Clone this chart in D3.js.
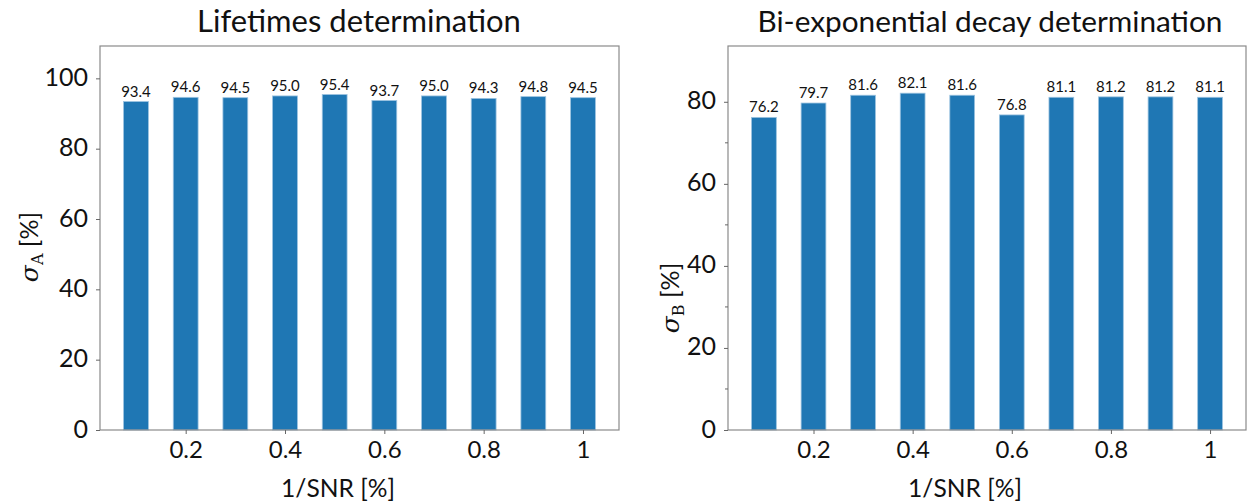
<!DOCTYPE html>
<html><head><meta charset="utf-8">
<script src="https://cdn.jsdelivr.net/npm/d3@7"></script>
<style>
body{margin:0;background:#fff;}
text{font-family:Lato,"Open Sans",sans-serif;fill:#111;}
</style></head>
<body><svg id="c" width="1247" height="504"></svg>
<script>
const xValues = [0.1,0.2,0.3,0.4,0.5,0.6,0.7,0.8,0.9,1.0];
const sigmaA = [93.4,94.6,94.5,95.0,95.4,93.7,95.0,94.3,94.8,94.5];
const sigmaB = [76.2,79.7,81.6,82.1,81.6,76.8,81.1,81.2,81.2,81.1];
const xTicks = [0.2,0.4,0.6,0.8,1];
const yTicksA = [0,20,40,60,80,100];
const yTicksB = [0,20,40,60,80];
const yMinorB = [10,30,50,70];
const titles = ["Lifetimes determination","Bi-exponential decay determination"];
const yLabelSubs = ["A","B"];
const xLabel = "1/SNR [%]";

const svg = d3.select("#c");
const barColor = "#1f77b4";

function fit(sel, w){
  const n = sel.node(); const cur = n.getComputedTextLength();
  const fs = parseFloat(sel.attr("font-size"));
  sel.attr("font-size", fs*w/cur);
}

function panel(opt){
  const {x0,x1,y0,y1,values,yMax,yTicks,yMinor,title,titleCx,titleW,sub,ylx,yly,xlabCx} = opt;
  const g = svg.append("g");
  const x = d3.scaleLinear().domain([0.0275,1.0725]).range([x0,x1]);
  const y = d3.scaleLinear().domain([0,yMax]).range([y1,y0]);
  const bw = x(0.05)-x(0);
  g.selectAll("rect.bar").data(values).join("rect")
    .attr("x",(d,i)=>x(xValues[i])-bw/2).attr("width",bw)
    .attr("y",d=>y(d)).attr("height",d=>y(0)-y(d))
    .attr("fill",barColor).attr("stroke","#9cc3e0").attr("stroke-width",0.8);
  g.selectAll("text.val").data(values).join("text")
    .attr("x",(d,i)=>x(xValues[i])).attr("y",d=>y(d)-5)
    .attr("text-anchor","middle").attr("font-size",15).text(d=>d.toFixed(1));
  // frame
  g.append("rect").attr("x",x0).attr("y",y0).attr("width",x1-x0).attr("height",y1-y0)
    .attr("fill","none").attr("stroke","#8a8a8a").attr("stroke-width",1.2);
  // y axis
  const ya = d3.axisLeft(y).tickValues(yTicks).tickSize(4).tickPadding(8).tickFormat(d3.format("d"));
  const yg = g.append("g").attr("transform",`translate(${x0},0)`).call(ya);
  yg.select(".domain").remove();
  yg.selectAll("line").attr("stroke","#666");
  yg.selectAll("text").attr("font-size",25).attr("font-family","Lato").attr("fill","#111").attr("dy","0.28em");
  if(yMinor){
    g.selectAll("line.minor").data(yMinor).join("line")
      .attr("x1",x0-3).attr("x2",x0).attr("y1",d=>y(d)).attr("y2",d=>y(d)).attr("stroke","#666");
  }
  // x axis
  const xa = d3.axisBottom(x).tickValues(xTicks).tickSize(4).tickPadding(7).tickFormat(d=>d===1?"1":d3.format(".1f")(d));
  const xg = g.append("g").attr("transform",`translate(0,${y1})`).call(xa);
  xg.select(".domain").remove();
  xg.selectAll("line").attr("stroke","#666");
  xg.selectAll("text").attr("font-size",24).attr("font-family","Lato").attr("fill","#111");
  // title
  const t = g.append("text").attr("x",titleCx).attr("y",32).attr("text-anchor","middle").attr("font-size",26).text(title);
  fit(t,titleW);
  // x label
  const xl = g.append("text").attr("x",xlabCx).attr("y",497).attr("text-anchor","middle").attr("font-size",22).text(xLabel);
  fit(xl,114);
  // y label
  const yl = g.append("text").attr("transform",`translate(${ylx},${yly}) rotate(-90)`).attr("text-anchor","middle").attr("font-size",25);
  yl.append("tspan").attr("font-family","DejaVu Serif").attr("font-style","italic").text("σ");
  yl.append("tspan").attr("font-size",16).attr("dy",5).attr("font-family","DejaVu Serif").text(sub);
  yl.append("tspan").attr("dy",-5).text(" [%]");
}

panel({x0:100,x1:619,y0:46,y1:430,values:sigmaA,yMax:109.2,yTicks:yTicksA,yMinor:null,
  title:titles[0],titleCx:359,titleW:324,sub:yLabelSubs[0],ylx:38,yly:247,xlabCx:338});
panel({x0:728,x1:1246,y0:46,y1:430,values:sigmaB,yMax:93.6,yTicks:yTicksB,yMinor:yMinorB,
  title:titles[1],titleCx:990,titleW:465,sub:yLabelSubs[1],ylx:679,yly:298,xlabCx:965});
</script></body></html>
